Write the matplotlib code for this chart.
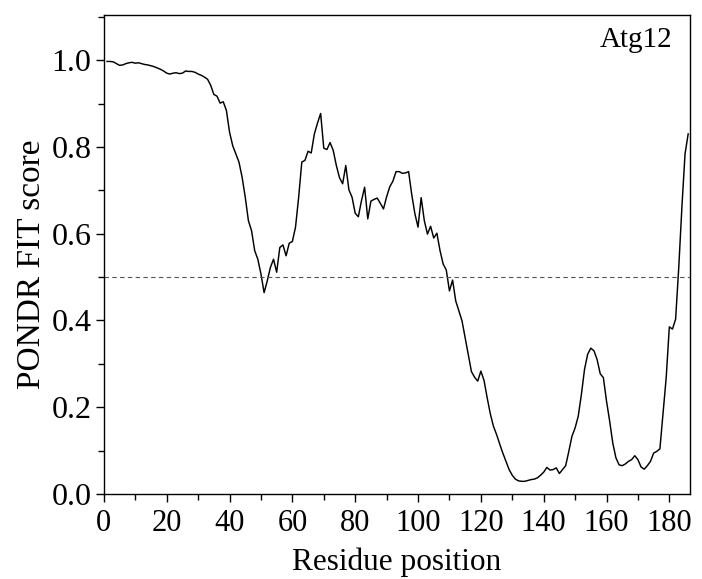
import matplotlib
matplotlib.use("Agg")
import matplotlib.pyplot as plt
from matplotlib.ticker import MultipleLocator

plt.rcParams["font.family"] = ["Liberation Serif", "DejaVu Serif"]

# PONDR FIT disorder score per residue of Atg12
residues = list(range(1, 187))
scores = [
    0.997, 0.997, 0.996, 0.992, 0.988, 0.989, 0.992, 0.994, 0.995, 0.993,
    0.994, 0.992, 0.990, 0.989, 0.987, 0.985, 0.982, 0.979, 0.975, 0.970,
    0.968, 0.970, 0.971, 0.969, 0.970, 0.975, 0.974, 0.974, 0.972, 0.968,
    0.965, 0.961, 0.956, 0.942, 0.921, 0.917, 0.901, 0.904, 0.884, 0.834,
    0.803, 0.784, 0.765, 0.730, 0.684, 0.630, 0.607, 0.561, 0.541, 0.507,
    0.464, 0.491, 0.522, 0.541, 0.511, 0.568, 0.574, 0.549, 0.578, 0.582,
    0.615, 0.684, 0.765, 0.769, 0.790, 0.786, 0.830, 0.855, 0.877, 0.797,
    0.794, 0.810, 0.792, 0.757, 0.729, 0.715, 0.757, 0.701, 0.684, 0.647,
    0.639, 0.676, 0.707, 0.634, 0.675, 0.679, 0.682, 0.670, 0.657, 0.685,
    0.708, 0.721, 0.743, 0.743, 0.739, 0.740, 0.743, 0.690, 0.646, 0.615,
    0.683, 0.630, 0.599, 0.617, 0.590, 0.601, 0.561, 0.530, 0.516, 0.468,
    0.493, 0.445, 0.422, 0.399, 0.360, 0.322, 0.282, 0.269, 0.260, 0.283,
    0.262, 0.222, 0.185, 0.156, 0.137, 0.115, 0.094, 0.075, 0.056, 0.043,
    0.034, 0.030, 0.029, 0.029, 0.031, 0.033, 0.034, 0.037, 0.043, 0.050,
    0.061, 0.055, 0.056, 0.060, 0.047, 0.056, 0.065, 0.098, 0.133, 0.152,
    0.179, 0.229, 0.287, 0.322, 0.336, 0.330, 0.310, 0.277, 0.268, 0.214,
    0.168, 0.117, 0.083, 0.067, 0.065, 0.069, 0.075, 0.079, 0.088, 0.079,
    0.062, 0.057, 0.065, 0.075, 0.094, 0.098, 0.104, 0.187, 0.268, 0.385,
    0.380, 0.403, 0.522, 0.661, 0.784, 0.830,
]
threshold = 0.5
protein = "Atg12"

fig = plt.figure(figsize=(7.02, 5.79), dpi=100)
ax = fig.add_axes([0.148, 0.147, 0.835, 0.827])

ax.plot(residues, scores, color="black", linewidth=1.05)
ax.axhline(threshold, color="#555555", linewidth=0.8, linestyle=(0, (4, 3)))

ax.set_xlim(0, 186.6)
ax.set_ylim(0, 1.104)
ax.xaxis.set_major_locator(MultipleLocator(20))
ax.xaxis.set_minor_locator(MultipleLocator(10))
ax.yaxis.set_major_locator(MultipleLocator(0.2))
ax.yaxis.set_minor_locator(MultipleLocator(0.1))
ax.yaxis.set_major_formatter(plt.FormatStrFormatter("%.1f"))

ax.tick_params(which="major", direction="out", length=6, width=1.0)
ax.tick_params(which="minor", direction="out", length=4, width=1.0)
ax.tick_params(axis="x", which="major", labelsize=22, pad=5)
ax.tick_params(axis="y", which="major", labelsize=23, pad=3)
for sp in ax.spines.values():
    sp.set_linewidth(1.0)

ax.set_xlabel("Residue position", fontsize=22.5)
ax.set_ylabel("PONDR FIT score", fontsize=24)
ax.xaxis.set_label_coords(0.5, -0.112)
ax.yaxis.set_label_coords(-0.097, 0.48)

ax.text(0.969, 0.975, protein, transform=ax.transAxes, ha="right", va="top",
        fontsize=21)

fig.savefig("out.png", dpi=100)
